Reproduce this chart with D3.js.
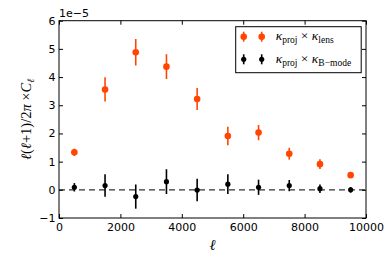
<!DOCTYPE html>
<html>
<head>
<meta charset="utf-8">
<script src="https://cdn.jsdelivr.net/npm/d3@7"></script>
<style>
  body { margin: 0; background: #fff; }
  svg text { fill: #000; }
</style>
</head>
<body>
<svg width="390" height="260"></svg>
<script>
// multipole bins and the two cross spectra (units of 1e-5)
var ells = [500, 1500, 2500, 3500, 4500, 5500, 6500, 7500, 8500, 9500];
var lensVals = [1.33, 3.56, 4.88, 4.37, 3.22, 1.91, 2.03, 1.28, 0.91, 0.52];
var lensErrs = [0.13, 0.43, 0.47, 0.44, 0.39, 0.33, 0.27, 0.21, 0.17, 0.10];
var bmodeVals = [0.09, 0.15, -0.24, 0.29, -0.01, 0.20, 0.09, 0.15, 0.04, 0.00];
var bmodeErrs = [0.15, 0.40, 0.43, 0.44, 0.40, 0.35, 0.27, 0.20, 0.15, 0.10];
var xTicks = [0, 2000, 4000, 6000, 8000, 10000];
var yTicks = [-1, 0, 1, 2, 3, 4, 5, 6];

var svg = d3.select("svg"),
    margin = {top: 20.7, right: 24, bottom: 42, left: 59},
    width = +svg.attr("width") - margin.left - margin.right,
    height = +svg.attr("height") - margin.top - margin.bottom,
    g = svg.append("g").attr("transform", "translate(" + margin.left + "," + margin.top + ")");

var x = d3.scaleLinear().domain([0, 10000]).range([0, width]);
var y = d3.scaleLinear().domain([-1, 6]).range([height, 0]);

var tickFont = "DejaVu Sans, sans-serif";
var mathFont = "Liberation Serif, serif";

// zero line
g.append("line")
  .attr("x1", 0).attr("x2", width)
  .attr("y1", y(0)).attr("y2", y(0))
  .attr("stroke", "#333")
  .attr("stroke-width", 1.2)
  .attr("stroke-dasharray", "6,4");

// axes with inward ticks on all four sides
function styleAxis(sel) {
  sel.select(".domain").remove();
  sel.selectAll(".tick line").attr("stroke", "#000");
  sel.selectAll(".tick text").attr("font-family", tickFont).attr("font-size", 11).attr("fill", "#000");
}
g.append("g")
  .attr("transform", "translate(0," + height + ")")
  .call(d3.axisBottom(x).tickValues(xTicks).tickSizeInner(-4).tickPadding(5).tickFormat(d3.format("d")))
  .call(styleAxis);
g.append("g")
  .call(d3.axisTop(x).tickValues(xTicks).tickSizeInner(-4).tickFormat(""))
  .call(styleAxis);
g.append("g")
  .call(d3.axisLeft(y).tickValues(yTicks).tickSizeInner(-4).tickPadding(3.5).tickFormat(function(d) { return d < 0 ? "\u2212" + (-d) : d; }))
  .call(styleAxis);
g.append("g")
  .attr("transform", "translate(" + width + ",0)")
  .call(d3.axisRight(y).tickValues(yTicks).tickSizeInner(-4).tickFormat(""))
  .call(styleAxis);

g.append("rect")
  .attr("width", width).attr("height", height)
  .attr("fill", "none").attr("stroke", "#000").attr("stroke-width", 1);

// error bar series
function drawSeries(vals, errs, color, r) {
  var data = ells.map(function(l, i) { return {l: l, v: vals[i], e: errs[i]}; });
  var s = g.append("g");
  s.selectAll("line").data(data).enter().append("line")
    .attr("x1", function(d) { return x(d.l); })
    .attr("x2", function(d) { return x(d.l); })
    .attr("y1", function(d) { return y(d.v - d.e); })
    .attr("y2", function(d) { return y(d.v + d.e); })
    .attr("stroke", color).attr("stroke-width", 1.6);
  s.selectAll("circle").data(data).enter().append("circle")
    .attr("cx", function(d) { return x(d.l); })
    .attr("cy", function(d) { return y(d.v); })
    .attr("r", r)
    .attr("fill", color);
}
drawSeries(lensVals, lensErrs, "#ff4500", 3.3);
drawSeries(bmodeVals, bmodeErrs, "#000", 2.6);

// offset text
svg.append("text")
  .attr("x", margin.left).attr("y", 17)
  .attr("font-family", tickFont).attr("font-size", 11)
  .text("1e\u22125");

// axis labels
svg.append("text")
  .attr("x", margin.left + width / 2).attr("y", 250)
  .attr("text-anchor", "middle")
  .attr("font-family", mathFont).attr("font-style", "italic").attr("font-size", 15)
  .text("\u2113");

var yl = svg.append("text")
  .attr("transform", "translate(31," + (margin.top + height / 2) + ") rotate(-90)")
  .attr("text-anchor", "middle")
  .attr("font-family", mathFont).attr("font-size", 14.5);
yl.append("tspan").attr("font-style", "italic").text("\u2113");
yl.append("tspan").text("(");
yl.append("tspan").attr("font-style", "italic").text("\u2113");
yl.append("tspan").text("+1)/2");
yl.append("tspan").attr("font-style", "italic").text("\u03c0 ");
yl.append("tspan").text("\u00d7");
yl.append("tspan").attr("font-style", "italic").text("C");
yl.append("tspan").attr("font-style", "italic").attr("font-size", 10).attr("dy", 3).text("\u2113");

// legend
var legend = svg.append("g").attr("transform", "translate(235.7,26.7)");
legend.append("rect")
  .attr("width", 125.5).attr("height", 46)
  .attr("fill", "#fff").attr("stroke", "#000").attr("stroke-width", 1);

var legendItems = [
  {color: "#ff4500", r: 3.3, sub: "lens"},
  {color: "#000", r: 2.6, sub: "B\u2212mode"}
];
var rows = legend.selectAll("g.row").data(legendItems).enter().append("g")
  .attr("class", "row")
  .attr("transform", function(d, i) { return "translate(0," + (10 + i * 22.6) + ")"; });
[8, 26].forEach(function(mx) {
  rows.append("line")
    .attr("x1", mx).attr("x2", mx).attr("y1", -5).attr("y2", 5)
    .attr("stroke", function(d) { return d.color; }).attr("stroke-width", 1.6);
  rows.append("circle")
    .attr("cx", mx).attr("cy", 0).attr("r", function(d) { return d.r; })
    .attr("fill", function(d) { return d.color; });
});
var lt = rows.append("text")
  .attr("x", 40).attr("y", 3.5)
  .attr("font-family", mathFont).attr("font-size", 13.5);
lt.append("tspan").attr("font-style", "italic").text("\u03ba");
lt.append("tspan").attr("font-size", 9.5).attr("dy", 3).text("proj");
lt.append("tspan").attr("dy", -3).text(" \u00d7 ");
lt.append("tspan").attr("font-style", "italic").text("\u03ba");
lt.append("tspan").attr("font-size", 9.5).attr("dy", 3).text(function(d) { return d.sub; });
</script>
</body>
</html>
